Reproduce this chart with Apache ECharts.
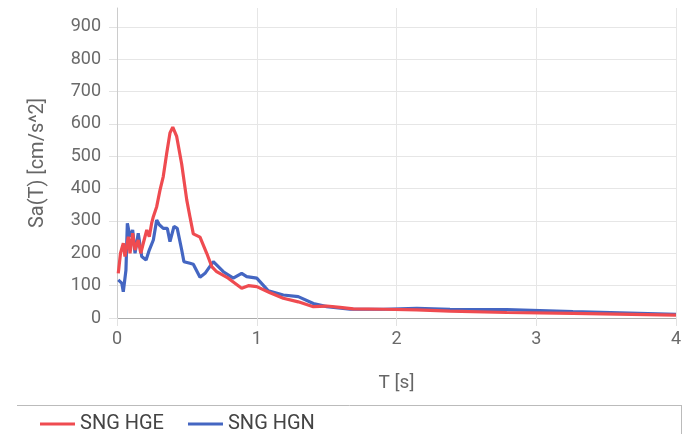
<!DOCTYPE html>
<html>
<head>
<meta charset="utf-8">
<script src="https://cdn.jsdelivr.net/npm/echarts@6/dist/echarts.min.js"></script>
<style>html,body{margin:0;padding:0;background:#fff}#c{width:693px;height:434px}</style>
</head>
<body>
<div id="c"></div>
<script>
const seriesNames = ['SNG HGE', 'SNG HGN'];
const periodsHGE = [0.009,0.025,0.045,0.057,0.081,0.093,0.112,0.129,0.152,0.170,0.188,0.213,0.231,0.248,0.260,0.284,0.308,0.331,0.356,0.379,0.399,0.427,0.463,0.499,0.522,0.546,0.594,0.642,0.678,0.713,0.796,0.892,0.940,1.000,1.095,1.190,1.297,1.405,1.501,1.596,1.691,1.906,2.145,2.383,2.789,3.263,4.0];
const valuesHGE  = [138,200,231,190,251,200,262,210,241,200,231,272,251,293,313,344,396,437,510,572,590,561,475,365,313,260,250,200,159,143,123,92,100,97,78,61,50,35,37,33,28,27,25,21,17,14,9];
const periodsHGN = [0.009,0.034,0.045,0.064,0.074,0.093,0.112,0.129,0.152,0.177,0.208,0.231,0.260,0.284,0.303,0.331,0.360,0.379,0.408,0.431,0.463,0.479,0.522,0.546,0.594,0.630,0.689,0.761,0.832,0.892,0.928,1.000,1.083,1.190,1.297,1.405,1.501,1.667,1.906,2.145,2.383,2.789,3.263,4.0];
const valuesHGN  = [118,108,81,148,293,251,272,200,262,190,179,210,241,303,288,277,277,236,283,277,210,174,169,166,126,138,174,143,123,138,128,123,84,71,66,45,35,27,27,30,27,26,20,11];
const xTicks = [0, 1, 2, 3, 4];
const yTickStep = 100;

const pairs = (xs, ys) => xs.map((x, i) => [x, ys[i]]);
const chart = echarts.init(document.getElementById('c'), null, {renderer: 'canvas'});
const font = 'Roboto, "Noto Sans", sans-serif';
chart.setOption({
  animation: false,
  textStyle: {fontFamily: font},
  grid: {left: 117, right: 17, top: 8, bottom: 116, containLabel: false},
  xAxis: {
    type: 'value', min: xTicks[0], max: xTicks[xTicks.length - 1], interval: 1,
    name: 'T [s]', nameLocation: 'middle', nameGap: 56,
    nameTextStyle: {fontSize: 19, color: '#666', fontFamily: font},
    axisLine: {show: true, lineStyle: {color: '#aaa', width: 1}},
    axisTick: {show: true, length: 8, lineStyle: {color: '#e2e2e2'}},
    axisLabel: {fontSize: 18, color: '#6a6a6a', margin: 12, fontFamily: font},
    splitLine: {show: true, lineStyle: {color: '#e6e6e6'}}
  },
  yAxis: {
    type: 'value', min: 0, max: 958, interval: yTickStep,
    name: 'Sa(T) [cm/s^2]', nameLocation: 'middle', nameGap: 69,
    nameTextStyle: {fontSize: 20, color: '#666', fontFamily: font},
    axisLine: {show: true, lineStyle: {color: '#ccc', width: 1}},
    axisTick: {show: true, length: 8, lineStyle: {color: '#e2e2e2'}},
    axisLabel: {fontSize: 18, color: '#6a6a6a', margin: 16, showMaxLabel: false, fontFamily: font},
    splitLine: {show: true, showMaxLine: false, lineStyle: {color: '#e6e6e6'}}
  },
  legend: {
    left: 35, top: 409, itemWidth: 35, itemHeight: 3, itemGap: 24, icon: 'rect',
    textStyle: {fontSize: 20, color: '#444', fontFamily: font},
    data: seriesNames
  },
  graphic: [
    {type: 'line', shape: {x1: 17, y1: 405.5, x2: 682, y2: 405.5}, style: {stroke: '#bbb', lineWidth: 1}},
    {type: 'line', shape: {x1: 681.5, y1: 405, x2: 681.5, y2: 434}, style: {stroke: '#bbb', lineWidth: 1}}
  ],
  series: [
    {name: seriesNames[0], type: 'line', data: pairs(periodsHGE, valuesHGE), symbol: 'none', z: 3,
     color: '#ef4b50', lineStyle: {width: 3.2, color: '#ef4b50'}},
    {name: seriesNames[1], type: 'line', data: pairs(periodsHGN, valuesHGN), symbol: 'none', z: 2,
     color: '#4466c2', lineStyle: {width: 3.2, color: '#4466c2'}}
  ]
});
</script>
</body>
</html>
